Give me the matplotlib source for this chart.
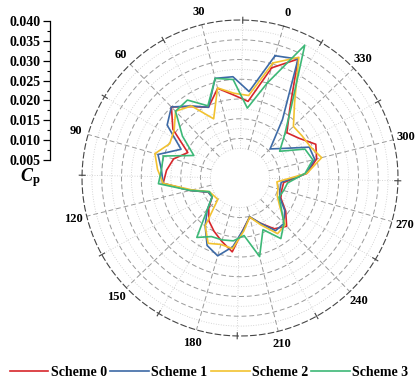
import numpy as np
import matplotlib
matplotlib.use("Agg")
import matplotlib.pyplot as plt
from matplotlib.ticker import MultipleLocator, FormatStrFormatter

plt.rcParams['font.family'] = ['Liberation Serif', 'DejaVu Serif']
plt.rcParams['mathtext.fontset'] = 'custom'
plt.rcParams['mathtext.it'] = 'Liberation Serif:italic:bold'
plt.rcParams['mathtext.rm'] = 'Liberation Serif:bold'

# ---- data ----
angles_deg = list(range(0, 360, 10))
scheme0 = [0.0290, 0.0195, 0.0210, 0.0234, 0.0196, 0.0218, 0.0250, 0.0210, 0.0147,
           0.0175, 0.0187, 0.0195, 0.0130, 0.0088, 0.0085, 0.0110, 0.0134, 0.0150,
           0.0167, 0.0188, 0.0129, 0.0102, 0.0125, 0.0155, 0.0170, 0.0143, 0.0115,
           0.0110, 0.0111, 0.0170, 0.0200, 0.0210, 0.0180, 0.0165, 0.0214, 0.0335]
scheme1 = [0.0322, 0.0220, 0.0257, 0.0260, 0.0196, 0.0220, 0.0250, 0.0228, 0.0166,
           0.0216, 0.0200, 0.0195, 0.0130, 0.0088, 0.0085, 0.0115, 0.0150, 0.0190,
           0.0205, 0.0175, 0.0130, 0.0101, 0.0125, 0.0161, 0.0160, 0.0140, 0.0112,
           0.0105, 0.0105, 0.0168, 0.0195, 0.0192, 0.0134, 0.0106, 0.0183, 0.0335]
scheme2 = [0.0303, 0.0210, 0.0215, 0.0235, 0.0164, 0.0220, 0.0235, 0.0206, 0.0198,
           0.0224, 0.0210, 0.0195, 0.0125, 0.0085, 0.0080, 0.0078, 0.0150, 0.0184,
           0.0175, 0.0180, 0.0135, 0.0102, 0.0130, 0.0170, 0.0165, 0.0125, 0.0105,
           0.0100, 0.0094, 0.0170, 0.0213, 0.0195, 0.0190, 0.0188, 0.0235, 0.0340]
scheme3 = [0.0250, 0.0178, 0.0250, 0.0260, 0.0200, 0.0238, 0.0235, 0.0180, 0.0130,
           0.0202, 0.0200, 0.0207, 0.0130, 0.0085, 0.0085, 0.0115, 0.0186, 0.0165,
           0.0163, 0.0160, 0.0146, 0.0205, 0.0143, 0.0185, 0.0160, 0.0129, 0.0110,
           0.0115, 0.0121, 0.0165, 0.0190, 0.0180, 0.0121, 0.0157, 0.0220, 0.0374]
series_names = ['Scheme 0', 'Scheme 1', 'Scheme 2', 'Scheme 3']
series_colors = ['#D7262B', '#3D6AA6', '#F2C230', '#3DB877']
angle_labels = [str(a) for a in range(0, 360, 30)]
r_ticks = [0.005, 0.010, 0.015, 0.020, 0.025, 0.030, 0.035, 0.040]

W, H = 418, 381
fig = plt.figure(figsize=(W / 100, H / 100), dpi=100)

cx, cy, R = 240, 178, 158
ax = fig.add_axes([(cx - R) / W, (H - cy - R) / H, 2 * R / W, 2 * R / H], projection='polar')
ax.set_theta_offset(np.deg2rad(74))
ax.set_theta_direction(1)
ax.set_ylim(0, 0.040)
ax.grid(False)
ax.set_yticks([])
ax.set_xticks(np.deg2rad(np.arange(0, 360, 30)))
ax.set_xticklabels(angle_labels, fontsize=9, fontweight='bold')
ax.tick_params(axis='x', pad=-1)
ax.spines['polar'].set_linestyle((0, (5, 3)))
ax.spines['polar'].set_color('#444444')
ax.spines['polar'].set_linewidth(0.8)

# grid
r_in = 0.0075
th = np.linspace(0, 2 * np.pi, 500)
for r in np.arange(r_in, 0.0399, 0.0025):
    major = abs((r / 0.005) - round(r / 0.005)) < 1e-6
    if major:
        ax.plot(th, np.full_like(th, r), color='#9a9a9a', lw=0.7, ls=(0, (5, 3)), zorder=1)
    else:
        ax.plot(th, np.full_like(th, r), color='#c8c8c8', lw=0.6, ls=(0, (1, 2)), zorder=1)
for a in range(0, 360, 15):
    t = np.deg2rad(a)
    if a % 30 == 0:
        ax.plot([t, t], [r_in, 0.040], color='#9a9a9a', lw=0.7, ls=(0, (5, 3)), zorder=1)
    else:
        ax.plot([t, t], [r_in, 0.040], color='#c8c8c8', lw=0.6, ls=(0, (1, 2)), zorder=1)
        ax.plot([t, t], [0.0392, 0.0407], color='#444444', lw=0.8, zorder=2, clip_on=False)

theta = np.deg2rad(angles_deg + [angles_deg[0]])
handles = []
for vals, name, col in zip([scheme0, scheme1, scheme2, scheme3], series_names, series_colors):
    h, = ax.plot(theta, vals + [vals[0]], color=col, lw=1.2, label=name, zorder=3)
    handles.append(h)

# left radial scale
y_top, y_bot, x_sp = 21, 160, 50
ax2 = fig.add_axes([x_sp / W, (H - y_bot) / H, 0.0001, (y_bot - y_top) / H])
ax2.set_ylim(r_ticks[0], r_ticks[-1])
ax2.set_yticks(r_ticks)
ax2.yaxis.set_minor_locator(MultipleLocator(0.0025))
ax2.yaxis.set_major_formatter(FormatStrFormatter('%.3f'))
for s in ['top', 'right', 'bottom']:
    ax2.spines[s].set_visible(False)
ax2.spines['left'].set_linewidth(0.9)
ax2.set_xticks([])
ax2.patch.set_visible(False)
ax2.tick_params(axis='y', which='major', length=5, width=0.9, labelsize=10, pad=2)
ax2.tick_params(axis='y', which='minor', length=2.5, width=0.8)
for lb in ax2.get_yticklabels():
    lb.set_fontweight('bold')
fig.text(30 / W, 1 - 178 / H, r'$C_{\mathrm{p}}$', fontsize=13, ha='center', va='center')

fig.legend(handles=handles, labels=series_names, loc='center', bbox_to_anchor=(0.5, 1 - 372 / H),
           ncol=4, frameon=False, handlelength=2.8, handletextpad=0.15, columnspacing=0.25,
           prop={'weight': 'bold', 'size': 10})

fig.savefig('out.png', dpi=100)
